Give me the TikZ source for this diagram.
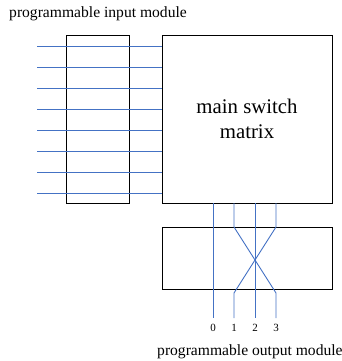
\documentclass[tikz,border=0pt]{standalone}
\usepackage{fontspec}
\setmainfont{Liberation Serif}
\definecolor{wire}{RGB}{68,114,196}
\begin{document}
\begin{tikzpicture}[x=1pt,y=-1pt,
  box/.style={draw=black,line width=0.9pt,fill=none,inner sep=0pt,outer sep=0pt},
  wireline/.style={draw=wire,line width=0.9pt},
  lbl/.style={font=\fontsize{15.6}{18}\selectfont,inner sep=0pt},
  num/.style={font=\fontsize{11}{13}\selectfont,inner sep=0pt}]
\useasboundingbox (0,0) rectangle (342,361);
% boxes
\node[box,minimum width=63pt,minimum height=168pt] (inbox) at (97.5,119) {};
\node[box,minimum width=170pt,minimum height=168pt,align=center,
      font=\fontsize{20.8}{25}\selectfont] (main) at (247,119) {main switch\\matrix};
\node[box,minimum width=170pt,minimum height=62pt] (outbox) at (247,258) {};
% labels
\node[lbl,anchor=west] (toplbl) at (9,14) {programmable input module};
\node[lbl,anchor=west] (botlbl) at (157,352) {programmable output module};
% input wires
\foreach \i/\yy in {1/46,2/67,3/88,4/109,5/130,6/151,7/172,8/193}{
  \coordinate (s\i) at (37,\yy);
  \draw[wireline] (s\i) -- (s\i -| main.west);
}
% output wires
\foreach \i/\xx in {0/213,1/234,2/255,3/276}{
  \coordinate (t\i) at (\xx,203);
  \coordinate (u\i) at (\xx,227);
  \coordinate (v\i) at (\xx,293);
  \coordinate (e\i) at (\xx,318);
  \node[num] (n\i) at (\xx,328) {\i};
}
\draw[wireline] (t0) -- (e0);
\draw[wireline] (t2) -- (e2);
\draw[wireline] (t1) -- (u1) -- (v3) -- (e3);
\draw[wireline] (t3) -- (u3) -- (v1) -- (e1);
\end{tikzpicture}
\end{document}
